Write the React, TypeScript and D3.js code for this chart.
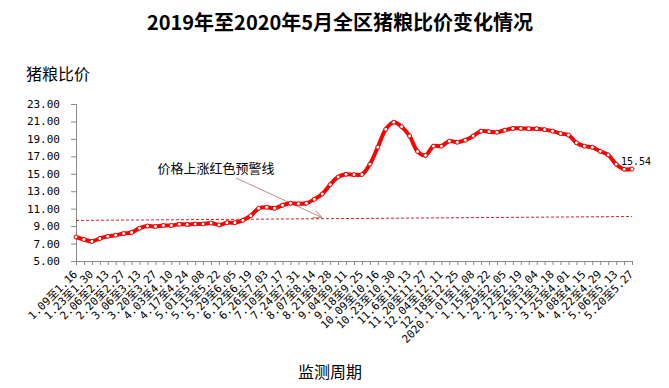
import { useEffect, useRef } from "react"
import * as d3 from "d3"

// weekly periods, 2019-01 to 2020-05
const categories = [
  "1.09至1.16", "1.16至1.23", "1.23至1.30", "1.30至2.06", "2.06至2.13", "2.13至2.20",
  "2.20至2.27", "2.27至3.06", "3.06至3.13", "3.13至3.20", "3.20至3.27", "3.27至4.03",
  "4.03至4.10", "4.10至4.17", "4.17至4.24", "4.24至5.01", "5.01至5.08", "5.08至5.15",
  "5.15至5.22", "5.22至5.29", "5.29至6.05", "6.05至6.12", "6.12至6.19", "6.19至6.26",
  "6.26至7.03", "7.03至7.10", "7.10至7.17", "7.17至7.24", "7.24至7.31", "7.31至8.07",
  "8.07至8.14", "8.14至8.21", "8.21至8.28", "8.28至9.04", "9.04至9.11", "9.11至9.18",
  "9.18至9.25", "9.25至10.09", "10.09至10.16", "10.16至10.23", "10.23至10.30", "10.30至11.6",
  "11.6至11.13", "11.13至11.20", "11.20至11.27", "11.27至12.04", "12.04至12.11", "12.11至12.18",
  "12.18至12.25", "12.25至2020.1.01", "2020.1.01至1.08", "1.08至1.15", "1.15至1.22", "1.22至1.29",
  "1.29至2.05", "2.05至2.12", "2.12至2.19", "2.19至2.26", "2.26至3.04", "3.04至3.11",
  "3.11至3.18", "3.18至3.25", "3.25至4.01", "4.01至4.08", "4.08至4.15", "4.15至4.22",
  "4.22至4.29", "4.29至5.06", "5.06至5.13", "5.13至5.20", "5.20至5.27",
]

const ratio = [
  7.75, 7.47, 7.24, 7.58, 7.83, 7.96, 8.15, 8.27, 8.76, 9.01,
  8.96, 9.07, 9.07, 9.22, 9.19, 9.24, 9.24, 9.36, 9.13, 9.39,
  9.39, 9.67, 10.19, 11.04, 11.16, 11.04, 11.39, 11.62, 11.57, 11.62,
  12.08, 12.68, 13.75, 14.63, 14.94, 14.9, 14.92, 16.1, 18.05, 20.1,
  20.91, 20.4, 19.33, 17.56, 17.1, 18.17, 18.17, 18.74, 18.62, 18.85,
  19.33, 19.89, 19.83, 19.77, 20.0, 20.2, 20.2, 20.17, 20.17, 20.06,
  19.89, 19.62, 19.45, 18.56, 18.17, 18.04, 17.58, 17.16, 16.1, 15.52,
  15.54,
]

// red warning line, value at first and last week
const warnLine = [9.65, 10.1]
const yTicks = [5, 7, 9, 11, 13, 15, 17, 19, 21, 23]

const title = "2019年至2020年5月全区猪粮比价变化情况"
const yTitle = "猪粮比价"
const xTitle = "监测周期"
const warnLabel = "价格上涨红色预警线"

const W = 669
const H = 388
const cjk = "'Noto Sans CJK SC', sans-serif"
const mono = "'DejaVu Sans Mono', 'Noto Sans CJK SC', monospace"

export default function App() {
  const svgRef = useRef<SVGSVGElement>(null)

  useEffect(() => {
    if (!svgRef.current) return
    const svg = d3.select(svgRef.current)
    svg.selectAll("*").remove()

    const left = 76
    const right = 632
    const top = 104
    const bottom = 261

    const x = d3.scalePoint<number>().domain(d3.range(categories.length)).range([left, right])
    const y = d3.scaleLinear().domain([5, 23]).range([bottom, top])

    svg.append("rect").attr("width", W).attr("height", H).attr("fill", "#fff")

    // title
    svg
      .append("text")
      .attr("x", 340)
      .attr("y", 30)
      .attr("text-anchor", "middle")
      .style("font-family", cjk)
      .style("font-weight", "bold")
      .style("font-size", "20px")
      .text(title)

    svg
      .append("text")
      .attr("x", 58)
      .attr("y", 80)
      .attr("text-anchor", "middle")
      .style("font-family", cjk)
      .style("font-size", "16px")
      .text(yTitle)

    svg
      .append("text")
      .attr("x", 330)
      .attr("y", 378)
      .attr("text-anchor", "middle")
      .style("font-family", cjk)
      .style("font-size", "16px")
      .text(xTitle)

    // y axis
    const yAxis = svg
      .append("g")
      .attr("transform", `translate(${left},0)`)
      .call(d3.axisLeft(y).tickValues(yTicks).tickSize(5).tickPadding(11).tickFormat((d) => d3.format(".2f")(d as number)))
    yAxis.select(".domain").attr("stroke", "#888")
    yAxis.selectAll(".tick line").attr("stroke", "#888")
    yAxis.selectAll("text").style("font-family", mono).style("font-size", "11px").attr("fill", "#000")

    // x axis
    const xAxis = svg
      .append("g")
      .attr("transform", `translate(0,${bottom})`)
      .call(d3.axisBottom(x).tickSize(4).tickSizeOuter(0).tickFormat(() => ""))
    xAxis.select(".domain").attr("stroke", "#888")
    xAxis.selectAll(".tick line").attr("stroke", "#888")

    // x labels, every second week
    svg
      .append("g")
      .selectAll("text")
      .data(categories.map((c, i) => ({ c, i })).filter((d) => d.i % 2 === 0))
      .enter()
      .append("text")
      .attr("transform", (d) => `translate(${x(d.i)! + 2},${bottom + 14}) rotate(-45)`)
      .attr("text-anchor", "end")
      .style("font-family", mono)
      .style("font-size", "11px")
      .text((d) => d.c)

    // warning line
    svg
      .append("line")
      .attr("x1", x(0)!)
      .attr("x2", x(categories.length - 1)!)
      .attr("y1", y(warnLine[0]))
      .attr("y2", y(warnLine[1]))
      .attr("stroke", "#d42020")
      .attr("stroke-width", 1)
      .attr("stroke-dasharray", "3,2")

    // annotation with arrow
    const defs = svg.append("defs")
    defs
      .append("marker")
      .attr("id", "arr")
      .attr("viewBox", "0 0 10 10")
      .attr("refX", 10)
      .attr("refY", 5)
      .attr("markerWidth", 9)
      .attr("markerHeight", 9)
      .attr("orient", "auto")
      .append("path")
      .attr("d", "M0,1 L10,5 L0,9")
      .attr("fill", "none")
      .attr("stroke", "#c48a8a")
      .attr("stroke-width", 1)

    const tIdx = 31
    const tVal = warnLine[0] + ((warnLine[1] - warnLine[0]) * tIdx) / (categories.length - 1)
    svg
      .append("line")
      .attr("x1", 236)
      .attr("y1", 178)
      .attr("x2", x(tIdx)!)
      .attr("y2", y(tVal) - 1)
      .attr("stroke", "#c48a8a")
      .attr("stroke-width", 1)
      .attr("marker-end", "url(#arr)")

    svg
      .append("text")
      .attr("x", 216)
      .attr("y", 173)
      .attr("text-anchor", "middle")
      .style("font-family", cjk)
      .style("font-size", "13px")
      .text(warnLabel)

    // main series
    const line = d3
      .line<number>()
      .x((d, i) => x(i)!)
      .y((d) => y(d))
      .curve(d3.curveCatmullRom)

    svg
      .append("path")
      .datum(ratio)
      .attr("d", line)
      .attr("fill", "none")
      .attr("stroke", "#ff0000")
      .attr("stroke-width", 4)
      .attr("stroke-linejoin", "round")

    svg
      .append("g")
      .selectAll("circle")
      .data(ratio)
      .enter()
      .append("circle")
      .attr("cx", (d, i) => x(i)!)
      .attr("cy", (d) => y(d))
      .attr("r", 2)
      .attr("fill", "#fff")
      .attr("stroke", "#e00000")
      .attr("stroke-width", 1)

    // last value label
    const last = ratio.length - 1
    svg
      .append("text")
      .attr("x", x(last)! - 11)
      .attr("y", y(ratio[last]) - 4)
      .style("font-family", mono)
      .style("font-size", "10px")
      .text(ratio[last].toFixed(2))
  }, [])

  return (
    <svg
      ref={svgRef}
      width={W}
      height={H}
      style={{ position: "absolute", left: 0, top: 0 }}
    ></svg>
  )
}
